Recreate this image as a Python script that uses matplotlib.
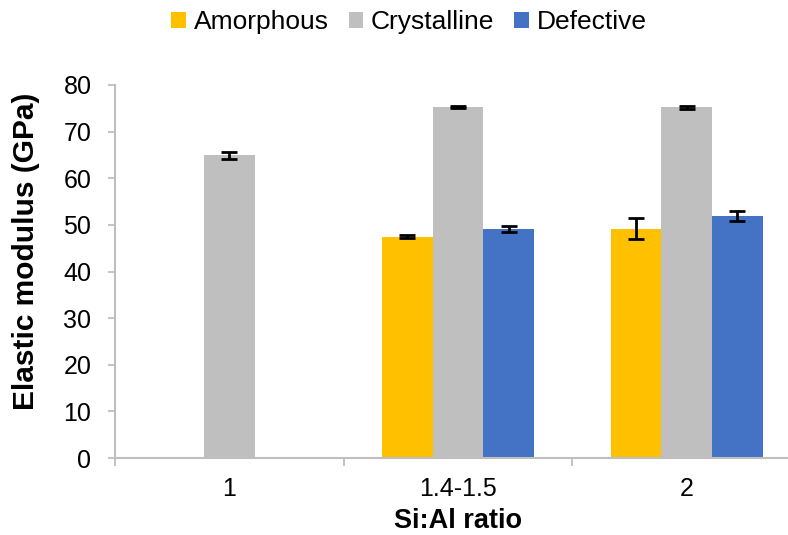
import numpy as np
import matplotlib
matplotlib.use("Agg")
import matplotlib.pyplot as plt

# Data
ratios = ["1", "1.4-1.5", "2"]
amorphous = [np.nan, 47.5, 49.2]
amorphous_err = [0, 0.3, 2.2]
crystalline = [64.9, 75.3, 75.2]
crystalline_err = [0.7, 0.15, 0.3]
defective = [np.nan, 49.1, 51.9]
defective_err = [0, 0.6, 1.1]

series_names = ["Amorphous", "Crystalline", "Defective"]
colors = ["#FFC000", "#BFBFBF", "#4472C4"]
axis_grey = "#BFBFBF"

plt.rcParams["font.family"] = ["Liberation Sans", "DejaVu Sans"]

fig = plt.figure(figsize=(7.88, 5.35), dpi=100)
ax = fig.add_axes([115 / 788, 1 - 458 / 535, 686 / 788, (458 - 85) / 535])

x = np.arange(len(ratios))
w = 0.222
values = [amorphous, crystalline, defective]
errors = [amorphous_err, crystalline_err, defective_err]
for i, (vals, errs) in enumerate(zip(values, errors)):
    pos = x + (i - 1) * w
    ax.bar(pos, vals, w, color=colors[i], label=series_names[i], zorder=2)
    vals = np.array(vals, dtype=float)
    mask = ~np.isnan(vals)
    ax.errorbar(pos[mask], vals[mask], yerr=np.array(errs)[mask], fmt="none",
                ecolor="black", elinewidth=2, capsize=6, capthick=2, zorder=3)

ax.set_xlim(-0.5, 2.5)
ax.set_ylim(0, 80)
ax.set_yticks(range(0, 81, 10))
ax.set_xticks(x)
ax.set_xticklabels(ratios)
ax.set_xticks([-0.5, 0.5, 1.5, 2.5], minor=True)

for s in ["top", "right"]:
    ax.spines[s].set_visible(False)
for s in ["left", "bottom"]:
    ax.spines[s].set_color(axis_grey)
    ax.spines[s].set_linewidth(1.5)

ax.tick_params(axis="y", direction="out", length=5, width=1.3, color=axis_grey,
               labelsize=18, pad=12)
ax.tick_params(axis="x", which="major", length=0, labelsize=18, pad=14)
ax.tick_params(axis="x", which="minor", direction="out", length=6, width=1.3,
               color=axis_grey)

ax.set_xlabel("Si:Al ratio", fontsize=19.5, fontweight="bold", labelpad=5)
ax.set_ylabel("Elastic modulus (GPa)", fontsize=21.5, fontweight="bold")
ax.yaxis.set_label_coords(-0.109, 0.555)

fig.legend(loc="upper center", bbox_to_anchor=(0.519, 1.025), ncol=3,
           frameon=False, fontsize=19, handlelength=0.55, handleheight=0.55,
           handletextpad=0.3, columnspacing=0.75)

fig.savefig("out.png", dpi=100)
